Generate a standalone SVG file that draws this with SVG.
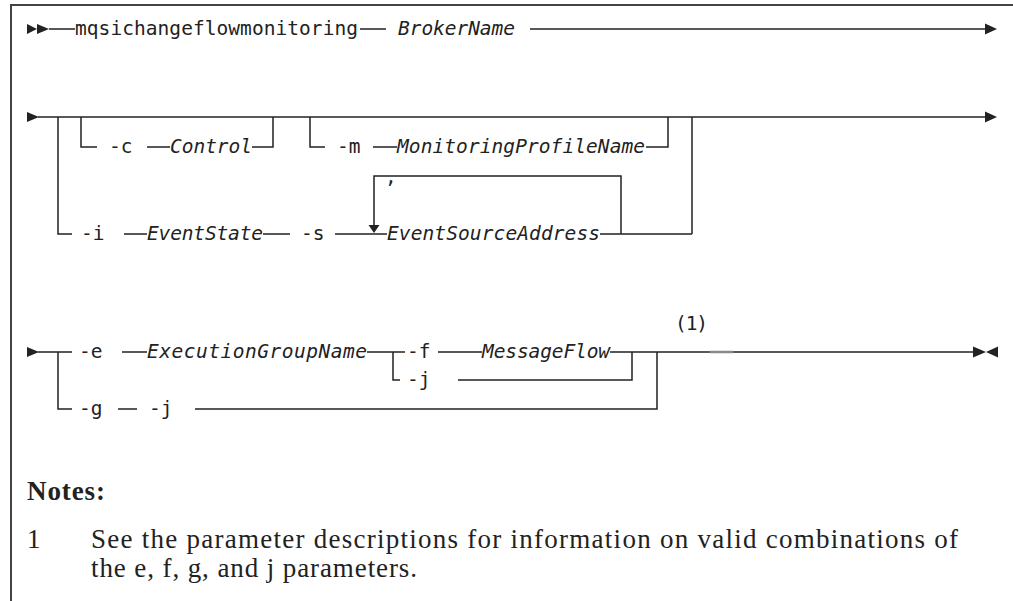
<svg xmlns="http://www.w3.org/2000/svg" width="1013" height="601" viewBox="0 0 1013 601">
<style>
.ln{stroke:#222;stroke-width:1.5;fill:none}
.fr{stroke:#444;stroke-width:2;fill:none}
.ar{fill:#222;stroke:none}
.m{font-family:"DejaVu Sans Mono","Liberation Mono",monospace;font-size:19.5px;fill:#222}
.i{font-style:italic}
.s{font-family:"Liberation Serif","DejaVu Serif",serif;font-size:27px;fill:#222}
.b{font-weight:bold}
</style>
<rect width="1013" height="601" fill="#fff"/>
<g id="frame">
<path class="fr" d="M10,5 H1013 M11,5 V601"/>
</g>
<g id="connectors">
<!-- row 1 -->
<polygon class="ar" points="27,24 37,29 27,34"/>
<polygon class="ar" points="37,24 49,29 37,34"/>
<path class="ln" d="M49,29 H75 M360,29 H386 M530,29 H986"/>
<polygon class="ar" points="985,23.5 997,29 985,34.5"/>
<!-- row 2 -->
<polygon class="ar" points="27,112 39,117 27,122"/>
<path class="ln" d="M38,117 H986"/>
<polygon class="ar" points="985,111.5 997,117 985,122.5"/>
<path class="ln" d="M58,117 V234 H72"/>
<path class="ln" d="M81,117 V147 H97 M147,147 H170 M252,147 H273 V117"/>
<path class="ln" d="M310,117 V147 H325 M373,147 H397 M646,147 H668 V117"/>
<path class="ln" d="M692,117 V234"/>
<path class="ln" d="M124,234 H147 M263,234 H290 M335,234 H387 M600,234 H692"/>
<path class="ln" d="M621,234 V176 H374 V226"/>
<polygon class="ar" points="368.5,225 379.5,225 374,233"/>
<!-- row 3 -->
<polygon class="ar" points="27,347 39,352 27,357"/>
<path class="ln" d="M38,352 H72 M122,352 H147 M367,352 H405 M438,352 H482 M610,352 H974"/>
<path class="ln" d="M58,352 V409 H72 M118,409 H137 M195,409 H657 V352"/>
<path class="ln" d="M393,352 V380 H400 M458,380 H632 V352"/>
<path d="M710,352 H733" stroke="#888" stroke-width="2.5"/>
<polygon class="ar" points="973,346.5 986,352 973,357.5"/>
<polygon class="ar" points="998,346.5 986,352 998,357.5"/>
</g>
<g id="n-cmd"><text class="m" x="75" y="35" textLength="283">mqsichangeflowmonitoring</text></g>
<g id="n-broker"><text class="m i" x="398" y="35" textLength="117">BrokerName</text></g>
<g id="n-c"><text class="m" x="109" y="153">-c</text></g>
<g id="n-control"><text class="m i" x="170" y="153" textLength="82">Control</text></g>
<g id="n-m"><text class="m" x="337" y="153">-m</text></g>
<g id="n-mpn"><text class="m i" x="397" y="153" textLength="248">MonitoringProfileName</text></g>
<g id="n-i"><text class="m" x="81" y="240">-i</text></g>
<g id="n-eventstate"><text class="m i" x="147" y="240" textLength="116">EventState</text></g>
<g id="n-s"><text class="m" x="301" y="240">-s</text></g>
<g id="n-esa"><text class="m i" x="387" y="240" textLength="213">EventSourceAddress</text></g>
<g id="n-comma"><text class="m" x="385" y="183">,</text></g>
<g id="n-e"><text class="m" x="79" y="358">-e</text></g>
<g id="n-egn"><text class="m i" x="147" y="358" textLength="220">ExecutionGroupName</text></g>
<g id="n-f"><text class="m" x="407" y="358">-f</text></g>
<g id="n-mf"><text class="m i" x="482" y="358" textLength="128">MessageFlow</text></g>
<g id="n-j1"><text class="m" x="407" y="386">-j</text></g>
<g id="n-g"><text class="m" x="79" y="415">-g</text></g>
<g id="n-j2"><text class="m" x="149" y="415">-j</text></g>
<g id="n-note-ref"><text class="m" x="675" y="330" textLength="33">(1)</text></g>
<g id="notes">
<text class="s b" x="27" y="500" textLength="78">Notes:</text>
<text class="s" x="27" y="548">1</text>
<text class="s" x="91" y="548" textLength="867">See the parameter descriptions for information on valid combinations of</text>
<text class="s" x="91" y="577" textLength="326">the e, f, g, and j parameters.</text>
</g>
</svg>
